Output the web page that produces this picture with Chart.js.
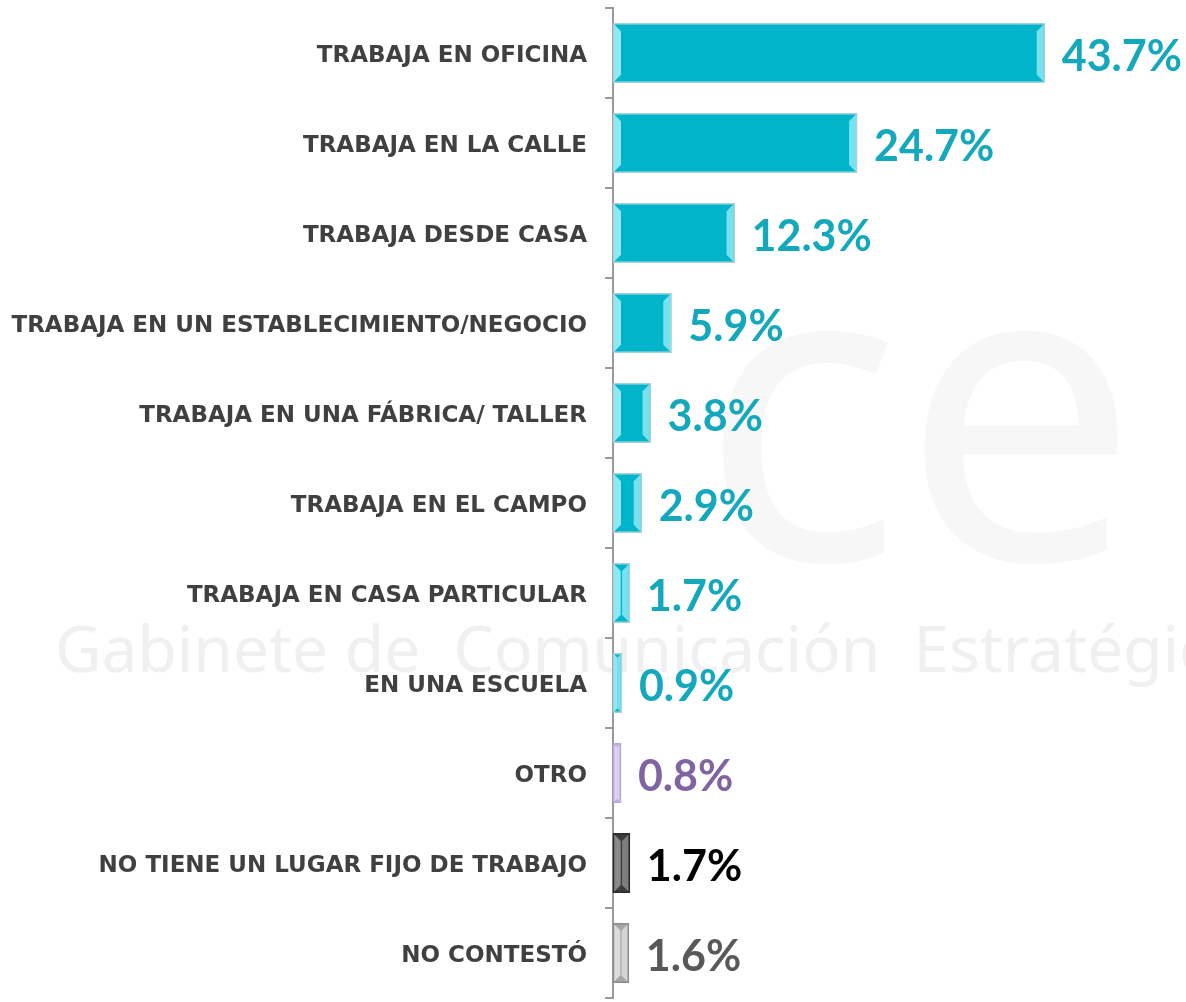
<!DOCTYPE html>
<html>
<head>
<meta charset="utf-8">
<script src="https://cdn.jsdelivr.net/npm/chart.js@4.4.1/dist/chart.umd.min.js"></script>
<style>
  html, body { margin: 0; padding: 0; background: #fff; }
  #wrap { position: relative; width: 1186px; height: 1002px; }
</style>
</head>
<body>
<div id="wrap"><canvas id="lugarChart"></canvas></div>
<script>
const categories = [
  'TRABAJA EN OFICINA',
  'TRABAJA EN LA CALLE',
  'TRABAJA DESDE CASA',
  'TRABAJA EN UN ESTABLECIMIENTO/NEGOCIO',
  'TRABAJA EN UNA FÁBRICA/ TALLER',
  'TRABAJA EN EL CAMPO',
  'TRABAJA EN CASA PARTICULAR',
  'EN UNA ESCUELA',
  'OTRO',
  'NO TIENE UN LUGAR FIJO DE TRABAJO',
  'NO CONTESTÓ'
];
const values = [43.7, 24.7, 12.3, 5.9, 3.8, 2.9, 1.7, 0.9, 0.8, 1.7, 1.6];

const teal = { fill: '#00b4c9', edge: '#8ceaf6', border: '#a9d3da', text: '#14a8bd' };
const purple = { fill: '#c1afe0', edge: '#ddd2f0', border: '#b9a6d8', text: '#8064a2' };
const dark = { fill: '#3c3c3c', edge: '#8a8a8a', border: '#2a2a2a', text: '#000000' };
const grey = { fill: '#a6a6a6', edge: '#dcdcdc', border: '#8c8c8c', text: '#595959' };
const styles = values.map((v, i) => i < 8 ? teal : i === 8 ? purple : i === 9 ? dark : grey);

// faint watermark behind the chart
const watermark = {
  id: 'watermark',
  beforeDraw(chart) {
    const ctx = chart.ctx;
    ctx.save();
    ctx.fillStyle = '#f7f7f7';
    ctx.font = '420px "Noto Sans", sans-serif';
    ctx.textBaseline = 'alphabetic';
    ctx.fillText('ce', 700, 560);
    ctx.fillStyle = '#f0f0f0';
    ctx.font = '64px "Noto Sans", sans-serif';
    ctx.fillText('Gabinete de  Comunicación  Estratégica', 55, 672);
    ctx.restore();
  }
};

// bevel highlights and value labels
const bevel = {
  id: 'bevel',
  afterDatasetsDraw(chart) {
    const ctx = chart.ctx;
    const meta = chart.getDatasetMeta(0);
    meta.data.forEach((bar, i) => {
      const st = styles[i];
      const l = bar.base, r = bar.x, t = bar.y - bar.height / 2, b = bar.y + bar.height / 2;
      const w = r - l;
      const e = Math.min(7, w / 2.5);
      ctx.save();
      ctx.fillStyle = st.edge;
      ctx.beginPath();
      ctx.moveTo(l + 1, t + 1); ctx.lineTo(l + 1 + e, t + 1 + e);
      ctx.lineTo(l + 1 + e, b - 1 - e); ctx.lineTo(l + 1, b - 1); ctx.closePath();
      ctx.fill();
      ctx.globalAlpha = 0.85;
      ctx.beginPath();
      ctx.moveTo(r - 1, t + 1); ctx.lineTo(r - 1 - e, t + 1 + e);
      ctx.lineTo(r - 1 - e, b - 1 - e); ctx.lineTo(r - 1, b - 1); ctx.closePath();
      ctx.fill();
      ctx.globalAlpha = 1;
      ctx.strokeStyle = st.border;
      ctx.lineWidth = 1.5;
      ctx.strokeRect(l + 0.5, t + 0.5, w - 1, b - t - 1);

      ctx.fillStyle = st.text;
      ctx.font = 'bold 43px Lato, sans-serif';
      ctx.textBaseline = 'middle';
      ctx.textAlign = 'left';
      ctx.fillText(values[i].toFixed(1) + '%', r + 17, bar.y + 4);
      ctx.restore();
    });
  }
};

new Chart(document.getElementById('lugarChart'), {
  type: 'bar',
  data: {
    labels: categories,
    datasets: [{
      data: values,
      backgroundColor: styles.map(s => s.fill),
      borderWidth: 0,
      categoryPercentage: 1,
      barPercentage: 0.66
    }]
  },
  options: {
    indexAxis: 'y',
    responsive: true,
    maintainAspectRatio: false,
    animation: false,
    layout: { padding: { top: 8, bottom: 4, left: 0, right: 0 } },
    plugins: { legend: { display: false }, tooltip: { enabled: false } },
    scales: {
      x: { display: false, min: 0, max: 58 },
      y: {
        afterFit(s) { s.width = 613; s.paddingTop = 0; s.paddingBottom = 0; },
        grid: { drawOnChartArea: false, drawTicks: true, tickLength: 8, color: '#9a9a9a', lineWidth: 2 },
        border: { color: '#9a9a9a', width: 2 },
        ticks: {
          padding: 18,
          labelOffset: 3,
          color: '#404040',
          font: { family: '"DejaVu Sans", sans-serif', weight: 'bold', size: 23 }
        }
      }
    }
  },
  plugins: [watermark, bevel]
});
</script>
</body>
</html>
